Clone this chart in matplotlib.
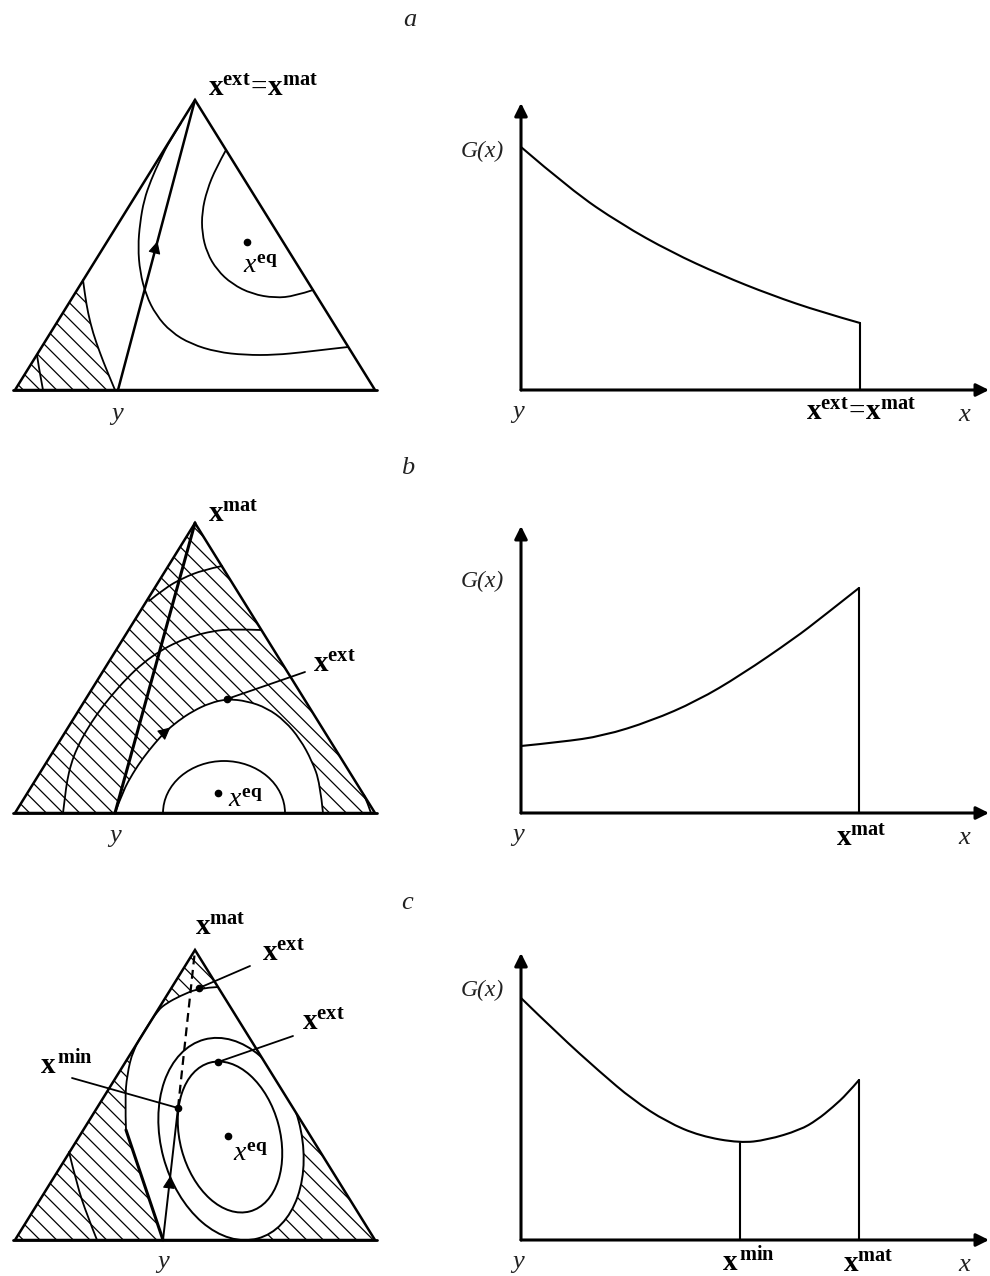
import numpy as np
import matplotlib.pyplot as plt
from matplotlib.patches import Polygon, Ellipse, Arc, PathPatch
from matplotlib.path import Path

plt.rcParams['font.family'] = ['Liberation Serif', 'DejaVu Serif']
plt.rcParams['mathtext.fontset'] = 'custom'
plt.rcParams['mathtext.rm'] = 'Liberation Serif'
plt.rcParams['mathtext.it'] = 'Liberation Serif:italic'
plt.rcParams['mathtext.bf'] = 'Liberation Serif:bold'
plt.rcParams['hatch.linewidth'] = 0.9

W, H = 990, 1276

# simplex: corners in local units (u to the right, h upwards)
TRI = [(0, 0), (360, 0), (180, 290)]
APEX = TRI[2]

# ---- panel a: concentration triangle
a_y = 103
a_arrow_h = 142
a_eq = (232, 148)
a_arc_outer = [(166, 267), (155, 250), (145, 230), (136, 210), (129, 190), (125, 167),
               (123, 143), (125, 118), (131, 95), (141, 75), (156, 58), (176, 46),
               (202, 38), (230, 35), (260, 35), (290, 38), (315, 41), (333, 43)]
a_arc_inner = [(211, 240), (201, 222), (192, 200), (187, 178), (187, 157), (192, 137),
               (202, 120), (217, 106), (237, 96), (260, 92), (280, 94), (298, 100)]
a_hatch_edge = [(68, 110), (70, 95), (73, 77), (78, 57), (85, 37), (92, 19), (100, 0)]
a_corner = [(22, 35), (24, 22), (26, 11), (28, 0)]

# ---- panel b
b_y = 100
b_eq = (203, 20)
b_ext = (212, 114)
b_ext_curve = [(100, 0), (108, 22), (118, 40), (128, 55), (140, 70), (150, 81), (163, 92),
               (178, 102), (195, 110), (212, 114), (232, 112), (252, 105), (270, 92),
               (285, 74), (297, 52), (305, 30), (308, 0)]
b_inner_arc = dict(center=(209, 0), width=122, height=104)
b_arc3 = [(48, 0), (50, 16), (52, 32), (56, 49), (62, 65), (71, 82), (82, 99), (96, 117),
          (112, 135), (128, 150), (145, 162), (162, 171), (178, 177), (198, 182),
          (218, 184), (246, 183)]
b_arc4 = [(134, 212), (150, 225), (168, 235), (188, 243), (207, 247)]
b_corner = [(349, 18), (353, 9), (356, 0)]
b_arrow = ((150, 81), (13, 11))
b_leader = [(212, 114), (290, 141)]

# ---- panel c
c_y = 148
c_min = (163, 132)
c_eq = (213, 104)
c_ext_top = (184, 252)
c_ext_in = (203, 178)
c_top_arc = [(203, 253), (184, 252), (165, 244), (152, 237), (143, 230)]
c_left_bound = [(143, 230), (130, 210), (118, 190), (112, 165), (110, 140), (111, 110)]
c_left_inner = [(54, 88), (62, 55), (72, 25), (82, 0)]
c_clear_right = [(230, 0), (267, 150)]
c_inner_ell = dict(xy=(215, 103), width=100, height=154, angle=15)
c_outer_ell = dict(xy=(216, 101), width=140, height=206, angle=15)
c_leader_top = [(184, 252), (235, 274)]
c_leader_in = [(203, 178), (278, 204)]
c_leader_min = [(57, 162), (163, 132)]

# ---- G(x) along the straight path y -> x^mat
a_gx = [0, 50, 100, 150, 200, 250, 300, 339]
a_gy = [243, 200, 166, 138, 115, 95, 78, 67]
b_gx = [0, 40, 82, 130, 176, 220, 274, 300, 338]
b_gy = [67, 71, 77, 92, 112, 138, 175, 195, 225]
c_gx = [0, 38, 79, 112, 146, 179, 219, 246, 279, 296, 312, 326, 338]
c_gy = [242, 205, 168, 140, 118, 104, 97, 100, 110, 120, 133, 146, 160]

BOLD_EXT = r'$\mathbf{x}^{\mathbf{ext}}$'
BOLD_MAT = r'$\mathbf{x}^{\mathbf{mat}}$'
BOLD_MIN = r'$\mathbf{x}^{\,\mathbf{min}}$'
BOLD_EQ = r'$\mathbf{x}^{\mathbf{ext}}\!=\!\mathbf{x}^{\mathbf{mat}}$'
X_EQ = r'$x^{\mathbf{eq}}$'

fig = plt.figure(figsize=(W / 100, H / 100), dpi=100)


def panel(x0, base, xlo, xhi, ylo, yhi):
    ax = fig.add_axes([(x0 + xlo) / W, (H - base + ylo) / H, (xhi - xlo) / W, (yhi - ylo) / H])
    ax.set_xlim(xlo, xhi)
    ax.set_ylim(ylo, yhi)
    ax.axis('off')
    return ax


def smooth_path(pts):
    # quadratic bezier pieces through the midpoints between control points
    pts = np.asarray(pts, float)
    verts, codes = [pts[0]], [Path.MOVETO]
    if len(pts) < 3:
        verts += list(pts[1:])
        codes += [Path.LINETO] * (len(pts) - 1)
        return verts, codes
    for i in range(1, len(pts) - 1):
        end = pts[-1] if i == len(pts) - 2 else (pts[i] + pts[i + 1]) / 2
        verts += [pts[i], end]
        codes += [Path.CURVE3, Path.CURVE3]
    return verts, codes


def curve(ax, pts, lw=1.3, z=4, ls='-'):
    verts, codes = smooth_path(pts)
    ax.add_patch(PathPatch(Path(verts, codes), fill=False, edgecolor='k', lw=lw,
                           zorder=z, ls=ls, capstyle='round', joinstyle='round'))


def region(ax, pts, tail, **kw):
    # smoothed edge, then straight segments back to the start
    verts, codes = smooth_path(pts)
    verts += list(tail) + [verts[0]]
    codes += [Path.LINETO] * len(tail) + [Path.CLOSEPOLY]
    ax.add_patch(PathPatch(Path(verts, codes), **kw))


def line(ax, pts, lw=1.3, z=4, **kw):
    pts = np.asarray(pts, float)
    ax.plot(pts[:, 0], pts[:, 1], color='k', lw=lw, zorder=z,
            solid_capstyle='round', solid_joinstyle='round', **kw)


def arrow_on(ax, p, d, size=19):
    p = np.asarray(p, float)
    d = np.asarray(d, float)
    d = d / np.hypot(*d)
    ax.annotate('', xy=p + d * 7, xytext=p - d * 2,
                arrowprops=dict(arrowstyle='-|>', color='k', lw=0.8,
                                mutation_scale=size, shrinkA=0, shrinkB=0), zorder=6)


def dot(ax, p):
    ax.plot([p[0]], [p[1]], 'o', color='k', ms=4.5, zorder=7)


def tri_edges(ax):
    ax.add_patch(Polygon(TRI, closed=True, facecolor='none', edgecolor='k', lw=1.8,
                         joinstyle='miter', zorder=5))
    line(ax, [(-2, 0), (362, 0)], lw=2.0, z=5)


HATCH = dict(facecolor='white', edgecolor='k', hatch='\\\\', lw=0, zorder=1)
WHITE = dict(facecolor='white', edgecolor='none', zorder=2)


def bold(ax, xy, s, size=21, **kw):
    ax.text(xy[0], xy[1], s, fontsize=size, ha='left', va='baseline', zorder=8, **kw)


def ital(ax, xy, s, size=19, ha='center'):
    ax.text(xy[0], xy[1], s, fontsize=size, style='italic', color='#222',
            ha=ha, va='center', zorder=8)


def g_panel(base, gx, gy, label_y):
    ax = panel(521, base, -60, 469, -45, 300)
    for tip in [(0, 287), (468, 0)]:
        ax.annotate('', xy=tip, xytext=(0, 0),
                    arrowprops=dict(arrowstyle='-|>', color='k', lw=2.2,
                                    mutation_scale=19, shrinkA=0, shrinkB=0))
    curve(ax, np.column_stack([gx, gy]), lw=1.5)
    line(ax, [(gx[-1], 0), (gx[-1], gy[-1])], lw=1.5)
    ital(ax, (-17, label_y), 'G(x)', size=17, ha='right')
    ital(ax, (-3, -22), 'y')
    ital(ax, (443, -25), 'x')
    return ax


# ================= a =================
ax = panel(15, 390, -15, 385, -45, 335)
region(ax, a_hatch_edge, [(0, 0)], **HATCH)
tri_edges(ax)
curve(ax, a_corner)
curve(ax, a_hatch_edge)
curve(ax, a_arc_outer)
curve(ax, a_arc_inner)
line(ax, [(a_y, 0), APEX], lw=1.8)
d = np.subtract(APEX, (a_y, 0))
arrow_on(ax, (a_y + d[0] * a_arrow_h / d[1], a_arrow_h), d)
dot(ax, a_eq)
bold(ax, (193, 294), BOLD_EQ)
bold(ax, (228, 117), X_EQ, size=20)
ital(ax, (102, -24), 'y')

axg = g_panel(390, a_gx, a_gy, 239)
bold(axg, (285, -30), BOLD_EQ)

# ================= b =================
ax = panel(15, 813, -15, 385, -45, 335)
ax.add_patch(Polygon(TRI, closed=True, **HATCH))
region(ax, b_ext_curve, [], **WHITE)
tri_edges(ax)
curve(ax, b_ext_curve)
curve(ax, b_arc3)
curve(ax, b_arc4)
curve(ax, b_corner)
ax.add_patch(Arc(b_inner_arc['center'], b_inner_arc['width'], b_inner_arc['height'],
                 theta1=0, theta2=180, color='k', lw=1.3, zorder=4))
line(ax, [(b_y, 0), APEX], lw=2.2)
arrow_on(ax, *b_arrow)
line(ax, b_leader)
dot(ax, b_ext)
dot(ax, b_eq)
bold(ax, (193, 291), BOLD_MAT)
bold(ax, (298, 141), BOLD_EXT)
bold(ax, (213, 6), X_EQ, size=20)
ital(ax, (b_y, -23), 'y')

axg = g_panel(813, b_gx, b_gy, 232)
bold(axg, (315, -33), BOLD_MAT)

# ================= c =================
ax = panel(15, 1240, -15, 385, -45, 335)
ax.add_patch(Polygon(TRI, closed=True, **HATCH))
clip = Polygon(TRI, closed=True, transform=ax.transData)
boundary = c_top_arc + c_left_bound[1:]
region(ax, boundary, [(c_y, 0)] + c_clear_right, **WHITE)
fill_ell = Ellipse(**c_outer_ell, **WHITE)
ax.add_patch(fill_ell)
fill_ell.set_clip_path(clip)
edge_ell = Ellipse(**c_outer_ell, fill=False, edgecolor='k', lw=1.4, zorder=4)
ax.add_patch(edge_ell)
edge_ell.set_clip_path(clip)
ax.add_patch(Ellipse(**c_inner_ell, fill=False, edgecolor='k', lw=1.4, zorder=4))
tri_edges(ax)
curve(ax, boundary)
curve(ax, c_left_inner)
line(ax, [c_left_bound[-1], (c_y, 0)], lw=2.2)
line(ax, [(c_y, 0), c_min], lw=1.4)
line(ax, [c_min, APEX], lw=1.6, ls=(0, (4, 2.5)))
arrow_on(ax, (c_y + (c_min[0] - c_y) * 57 / c_min[1], 57), np.subtract(c_min, (c_y, 0)))
line(ax, c_leader_top)
line(ax, c_leader_in)
line(ax, c_leader_min)
for p in [c_ext_top, c_ext_in, c_min, c_eq]:
    dot(ax, p)
bold(ax, (180, 305), BOLD_MAT)
bold(ax, (247, 279), BOLD_EXT)
bold(ax, (287, 210), BOLD_EXT)
bold(ax, (25, 165), BOLD_MIN)
bold(ax, (218, 79), X_EQ, size=20)
ital(ax, (c_y, -22), 'y')

axg = g_panel(1240, c_gx, c_gy, 250)
i_min = int(np.argmin(c_gy))
line(axg, [(c_gx[i_min], 0), (c_gx[i_min], c_gy[i_min])], lw=1.5)
bold(axg, (201, -32), BOLD_MIN)
bold(axg, (322, -32), BOLD_MAT)

# panel letters
for lx, ly, s in [(410, 20, 'a'), (408, 468, 'b'), (407, 903, 'c')]:
    fig.text(lx / W, 1 - ly / H, s, fontsize=19, style='italic', color='#222',
             ha='center', va='center')

fig.savefig('out.png', dpi=100, facecolor='white')
